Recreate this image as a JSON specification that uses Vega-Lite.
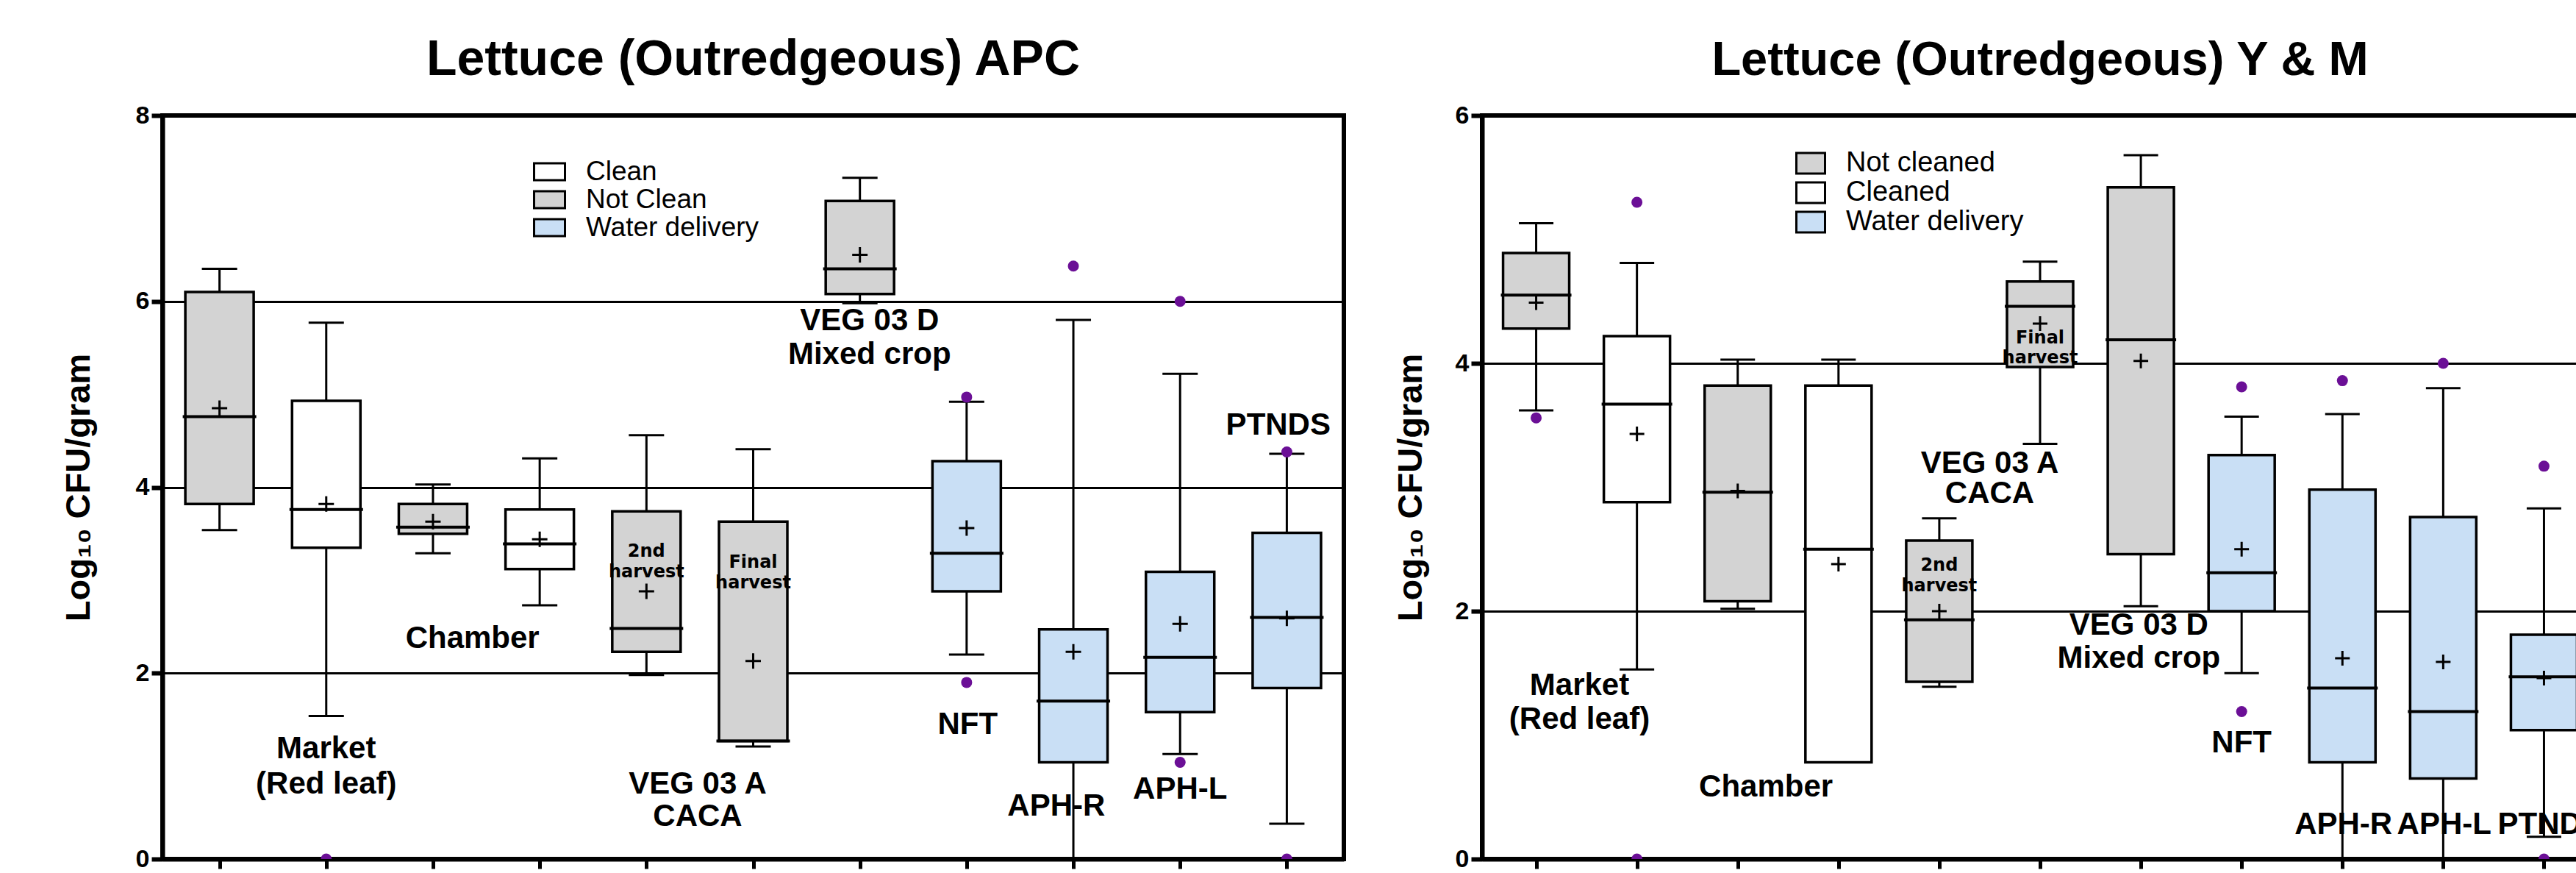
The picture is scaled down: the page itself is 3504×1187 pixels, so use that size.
{
  "$schema": "https://vega.github.io/schema/vega-lite/v6.json",
  "background": "white",
  "padding": {"left": 80, "top": 45, "right": 0, "bottom": 0},
  "bounds": "flush",
  "spacing": 188,
  "config": {
    "font": "Liberation Sans",
    "view": {"stroke": "#000", "strokeWidth": 6},
    "title": {"font": "Liberation Sans", "fontWeight": "bold", "color": "#000", "anchor": "middle", "frame": "group", "offset": 24},
    "axis": {"domainColor": "#000", "tickColor": "#000", "labelColor": "#000", "titleColor": "#000"},
    "axisX": {"labels": false, "title": null, "grid": false, "domainWidth": 6, "tickWidth": 5, "tickSize": 13},
    "axisY": {"grid": true, "gridColor": "#000", "gridWidth": 3, "gridOpacity": 1, "domainWidth": 6, "tickWidth": 6, "tickSize": 15,
      "labelFont": "Liberation Sans", "labelFontWeight": "bold", "labelFontSize": 34, "labelPadding": 3,
      "titleFont": "Liberation Sans", "titleFontSize": 47, "titleFontWeight": "bold"},
    "legend": {"labelLimit": 600}
  },
  "datasets": {
    "boxL": [
      {"cat": 1, "g": "Not Clean", "lo": 3.54, "q1": 3.82, "med": 4.76, "q3": 6.10, "hi": 6.35, "mean": 4.85},
      {"cat": 2, "g": "Clean", "lo": 1.54, "q1": 3.35, "med": 3.76, "q3": 4.93, "hi": 5.77, "mean": 3.82},
      {"cat": 3, "g": "Not Clean", "lo": 3.29, "q1": 3.50, "med": 3.57, "q3": 3.82, "hi": 4.03, "mean": 3.63},
      {"cat": 4, "g": "Clean", "lo": 2.73, "q1": 3.12, "med": 3.39, "q3": 3.76, "hi": 4.31, "mean": 3.44},
      {"cat": 5, "g": "Not Clean", "lo": 1.98, "q1": 2.23, "med": 2.48, "q3": 3.74, "hi": 4.56, "mean": 2.88},
      {"cat": 6, "g": "Not Clean", "lo": 1.21, "q1": 1.27, "med": 1.27, "q3": 3.63, "hi": 4.41, "mean": 2.13},
      {"cat": 7, "g": "Not Clean", "lo": 5.98, "q1": 6.08, "med": 6.35, "q3": 7.08, "hi": 7.33, "mean": 6.50},
      {"cat": 8, "g": "Water delivery", "lo": 2.20, "q1": 2.88, "med": 3.29, "q3": 4.28, "hi": 4.92, "mean": 3.56},
      {"cat": 9, "g": "Water delivery", "lo": 0.0, "q1": 1.04, "med": 1.70, "q3": 2.47, "hi": 5.80, "mean": 2.23},
      {"cat": 10, "g": "Water delivery", "lo": 1.13, "q1": 1.58, "med": 2.17, "q3": 3.09, "hi": 5.22, "mean": 2.53},
      {"cat": 11, "g": "Water delivery", "lo": 0.38, "q1": 1.84, "med": 2.60, "q3": 3.51, "hi": 4.36, "mean": 2.59}
    ],
    "outL": [
      {"cat": 2, "v": 0.0}, {"cat": 8, "v": 4.97}, {"cat": 8, "v": 1.90}, {"cat": 9, "v": 6.38},
      {"cat": 10, "v": 6.00}, {"cat": 10, "v": 1.04}, {"cat": 11, "v": 4.38}, {"cat": 11, "v": 0.0}
    ],
    "labL": [
      {"cat": 2, "y": 1.19, "t": "Market"},
      {"cat": 2, "y": 0.81, "t": "(Red leaf)"},
      {"cat": 3.37, "y": 2.37, "t": "Chamber"},
      {"cat": 5.48, "y": 0.81, "t": "VEG 03 A"},
      {"cat": 5.48, "y": 0.46, "t": "CACA"},
      {"cat": 7.09, "y": 5.79, "t": "VEG 03 D"},
      {"cat": 7.09, "y": 5.43, "t": "Mixed crop"},
      {"cat": 8.01, "y": 1.45, "t": "NFT"},
      {"cat": 8.84, "y": 0.57, "t": "APH-R"},
      {"cat": 10.0, "y": 0.75, "t": "APH-L"},
      {"cat": 10.92, "y": 4.67, "t": "PTNDS"}
    ],
    "labLs": [
      {"cat": 5, "y": 3.31, "t": "2nd"},
      {"cat": 5, "y": 3.09, "t": "harvest"},
      {"cat": 6, "y": 3.19, "t": "Final"},
      {"cat": 6, "y": 2.97, "t": "harvest"}
    ],
    "boxR": [
      {"cat": 1, "g": "Not cleaned", "lo": 3.62, "q1": 4.28, "med": 4.55, "q3": 4.89, "hi": 5.13, "mean": 4.49},
      {"cat": 2, "g": "Cleaned", "lo": 1.53, "q1": 2.88, "med": 3.67, "q3": 4.22, "hi": 4.81, "mean": 3.43},
      {"cat": 3, "g": "Not cleaned", "lo": 2.02, "q1": 2.08, "med": 2.96, "q3": 3.82, "hi": 4.03, "mean": 2.97},
      {"cat": 4, "g": "Cleaned", "lo": 0.78, "q1": 0.78, "med": 2.50, "q3": 3.82, "hi": 4.03, "mean": 2.38},
      {"cat": 5, "g": "Not cleaned", "lo": 1.39, "q1": 1.43, "med": 1.93, "q3": 2.57, "hi": 2.75, "mean": 2.00},
      {"cat": 6, "g": "Not cleaned", "lo": 3.35, "q1": 3.97, "med": 4.46, "q3": 4.66, "hi": 4.82, "mean": 4.32},
      {"cat": 7, "g": "Not cleaned", "lo": 2.04, "q1": 2.46, "med": 4.19, "q3": 5.42, "hi": 5.68, "mean": 4.02},
      {"cat": 8, "g": "Water delivery", "lo": 1.50, "q1": 2.00, "med": 2.31, "q3": 3.26, "hi": 3.57, "mean": 2.50},
      {"cat": 9, "g": "Water delivery", "lo": 0.0, "q1": 0.78, "med": 1.38, "q3": 2.98, "hi": 3.59, "mean": 1.62},
      {"cat": 10, "g": "Water delivery", "lo": 0.0, "q1": 0.65, "med": 1.19, "q3": 2.76, "hi": 3.80, "mean": 1.59},
      {"cat": 11, "g": "Water delivery", "lo": 0.18, "q1": 1.04, "med": 1.47, "q3": 1.81, "hi": 2.83, "mean": 1.46}
    ],
    "outR": [
      {"cat": 1, "v": 3.56}, {"cat": 2, "v": 5.30}, {"cat": 2, "v": 0.0}, {"cat": 8, "v": 3.81},
      {"cat": 8, "v": 1.19}, {"cat": 9, "v": 3.86}, {"cat": 10, "v": 4.00}, {"cat": 11, "v": 3.17}, {"cat": 11, "v": 0.0}
    ],
    "labR": [
      {"cat": 1.43, "y": 1.40, "t": "Market"},
      {"cat": 1.43, "y": 1.13, "t": "(Red leaf)"},
      {"cat": 3.28, "y": 0.58, "t": "Chamber"},
      {"cat": 5.5, "y": 3.19, "t": "VEG 03 A"},
      {"cat": 5.5, "y": 2.95, "t": "CACA"},
      {"cat": 6.98, "y": 1.89, "t": "VEG 03 D"},
      {"cat": 6.98, "y": 1.62, "t": "Mixed crop"},
      {"cat": 8.0, "y": 0.94, "t": "NFT"},
      {"cat": 9.01, "y": 0.28, "t": "APH-R"},
      {"cat": 10.01, "y": 0.28, "t": "APH-L"},
      {"cat": 11.06, "y": 0.28, "t": "PTNDS"}
    ],
    "labRs": [
      {"cat": 5, "y": 2.37, "t": "2nd"},
      {"cat": 5, "y": 2.20, "t": "harvest"},
      {"cat": 6, "y": 4.20, "t": "Final"},
      {"cat": 6, "y": 4.04, "t": "harvest"}
    ]
  },
  "hconcat": [
    {
      "width": 1607,
      "height": 1011,
      "title": {"text": "Lettuce (Outredgeous) APC", "fontSize": 68},
      "encoding": {
        "x": {"field": "cat", "type": "quantitative", "scale": {"domain": [0.5, 11.5], "nice": false, "zero": false},
          "axis": {"values": [1, 2, 3, 4, 5, 6, 7, 8, 9, 10, 11]}}
      },
      "layer": [
        {
          "data": {"name": "boxL"},
          "mark": {"type": "rule", "color": "#000", "strokeWidth": 3},
          "encoding": {
            "y": {"field": "lo", "type": "quantitative", "scale": {"domain": [0, 8], "nice": false, "zero": false},
              "axis": {"values": [0, 2, 4, 6, 8], "title": "Log₁₀ CFU/gram", "titlePadding": 53}},
            "y2": {"field": "hi"}
          }
        },
        {
          "data": {"name": "boxL"},
          "mark": {"type": "tick", "orient": "horizontal", "size": 48, "thickness": 3, "color": "#000", "opacity": 1},
          "encoding": {"y": {"field": "lo", "type": "quantitative", "axis": {"values": [0, 2, 4, 6, 8], "title": "Log₁₀ CFU/gram", "titlePadding": 53}}}
        },
        {
          "data": {"name": "boxL"},
          "mark": {"type": "tick", "orient": "horizontal", "size": 48, "thickness": 3, "color": "#000", "opacity": 1},
          "encoding": {"y": {"field": "hi", "type": "quantitative", "axis": {"values": [0, 2, 4, 6, 8], "title": "Log₁₀ CFU/gram", "titlePadding": 53}}}
        },
        {
          "data": {"name": "boxL"},
          "mark": {"type": "bar", "size": 93, "stroke": "#000", "strokeWidth": 3.5, "opacity": 1},
          "encoding": {
            "y": {"field": "q1", "type": "quantitative", "axis": {"values": [0, 2, 4, 6, 8], "title": "Log₁₀ CFU/gram", "titlePadding": 53}},
            "y2": {"field": "q3"},
            "color": {"field": "g", "type": "nominal",
              "scale": {"domain": ["Clean", "Not Clean", "Water delivery"], "range": ["#ffffff", "#d3d3d3", "#c9dff5"]},
              "legend": {"orient": "none", "legendX": 508, "legendY": 58, "title": null, "symbolType": "M-1.4,-0.77H1.4V0.77H-1.4Z", "symbolSize": 900,
                "symbolStrokeColor": "#000", "symbolStrokeWidth": 3, "symbolOpacity": 1, "labelFont": "Liberation Sans", "labelFontSize": 37, "labelColor": "#000",
                "labelOffset": 31, "rowPadding": 0, "padding": 0}}
          }
        },
        {
          "data": {"name": "boxL"},
          "mark": {"type": "tick", "orient": "horizontal", "size": 100, "thickness": 4, "color": "#000", "opacity": 1},
          "encoding": {"y": {"field": "med", "type": "quantitative", "axis": {"values": [0, 2, 4, 6, 8], "title": "Log₁₀ CFU/gram", "titlePadding": 53}}}
        },
        {
          "data": {"name": "boxL"},
          "mark": {"type": "point", "shape": "M-1,0H1M0,-1V1", "size": 440, "filled": false, "stroke": "#000", "strokeWidth": 3, "opacity": 1},
          "encoding": {"y": {"field": "mean", "type": "quantitative", "axis": {"values": [0, 2, 4, 6, 8], "title": "Log₁₀ CFU/gram", "titlePadding": 53}}}
        },
        {
          "data": {"name": "outL"},
          "mark": {"type": "circle", "size": 225, "color": "#6b0f96", "opacity": 1, "clip": true},
          "encoding": {"y": {"field": "v", "type": "quantitative", "axis": {"values": [0, 2, 4, 6, 8], "title": "Log₁₀ CFU/gram", "titlePadding": 53}}}
        },
        {
          "data": {"name": "labL"},
          "mark": {"type": "text", "font": "Liberation Sans", "fontWeight": "bold", "fontSize": 42, "color": "#000", "align": "center", "baseline": "middle"},
          "encoding": {"y": {"field": "y", "type": "quantitative", "axis": {"values": [0, 2, 4, 6, 8], "title": "Log₁₀ CFU/gram", "titlePadding": 53}}, "text": {"field": "t"}}
        },
        {
          "data": {"name": "labLs"},
          "mark": {"type": "text", "font": "DejaVu Sans", "fontWeight": "bold", "fontSize": 24, "color": "#000", "align": "center", "baseline": "middle"},
          "encoding": {"y": {"field": "y", "type": "quantitative", "axis": {"values": [0, 2, 4, 6, 8], "title": "Log₁₀ CFU/gram", "titlePadding": 53}}, "text": {"field": "t"}}
        }
      ]
    },
    {
      "width": 1518,
      "height": 1011,
      "title": {"text": "Lettuce (Outredgeous) Y & M", "fontSize": 65},
      "encoding": {
        "x": {"field": "cat", "type": "quantitative", "scale": {"domain": [0.5, 11.5], "nice": false, "zero": false},
          "axis": {"values": [1, 2, 3, 4, 5, 6, 7, 8, 9, 10, 11]}}
      },
      "layer": [
        {
          "data": {"name": "boxR"},
          "mark": {"type": "rule", "color": "#000", "strokeWidth": 3},
          "encoding": {
            "y": {"field": "lo", "type": "quantitative", "scale": {"domain": [0, 6], "nice": false, "zero": false},
              "axis": {"values": [0, 2, 4, 6], "title": "Log₁₀ CFU/gram", "titlePadding": 36}},
            "y2": {"field": "hi"}
          }
        },
        {
          "data": {"name": "boxR"},
          "mark": {"type": "tick", "orient": "horizontal", "size": 47, "thickness": 3, "color": "#000", "opacity": 1},
          "encoding": {"y": {"field": "lo", "type": "quantitative", "axis": {"values": [0, 2, 4, 6], "title": "Log₁₀ CFU/gram", "titlePadding": 36}}}
        },
        {
          "data": {"name": "boxR"},
          "mark": {"type": "tick", "orient": "horizontal", "size": 47, "thickness": 3, "color": "#000", "opacity": 1},
          "encoding": {"y": {"field": "hi", "type": "quantitative", "axis": {"values": [0, 2, 4, 6], "title": "Log₁₀ CFU/gram", "titlePadding": 36}}}
        },
        {
          "data": {"name": "boxR"},
          "mark": {"type": "bar", "size": 90, "stroke": "#000", "strokeWidth": 3.5, "opacity": 1},
          "encoding": {
            "y": {"field": "q1", "type": "quantitative", "axis": {"values": [0, 2, 4, 6], "title": "Log₁₀ CFU/gram", "titlePadding": 36}},
            "y2": {"field": "q3"},
            "color": {"field": "g", "type": "nominal",
              "scale": {"domain": ["Not cleaned", "Cleaned", "Water delivery"], "range": ["#d3d3d3", "#ffffff", "#c9dff5"]},
              "legend": {"orient": "none", "legendX": 428, "legendY": 46, "title": null, "symbolType": "M-1.3,-0.93H1.3V0.93H-1.3Z", "symbolSize": 900,
                "symbolStrokeColor": "#000", "symbolStrokeWidth": 3, "symbolOpacity": 1, "labelFont": "Liberation Sans", "labelFontSize": 38, "labelColor": "#000",
                "labelOffset": 29, "rowPadding": 0, "padding": 0}}
          }
        },
        {
          "data": {"name": "boxR"},
          "mark": {"type": "tick", "orient": "horizontal", "size": 96, "thickness": 4, "color": "#000", "opacity": 1},
          "encoding": {"y": {"field": "med", "type": "quantitative", "axis": {"values": [0, 2, 4, 6], "title": "Log₁₀ CFU/gram", "titlePadding": 36}}}
        },
        {
          "data": {"name": "boxR"},
          "mark": {"type": "point", "shape": "M-1,0H1M0,-1V1", "size": 400, "filled": false, "stroke": "#000", "strokeWidth": 3, "opacity": 1},
          "encoding": {"y": {"field": "mean", "type": "quantitative", "axis": {"values": [0, 2, 4, 6], "title": "Log₁₀ CFU/gram", "titlePadding": 36}}}
        },
        {
          "data": {"name": "outR"},
          "mark": {"type": "circle", "size": 225, "color": "#6b0f96", "opacity": 1, "clip": true},
          "encoding": {"y": {"field": "v", "type": "quantitative", "axis": {"values": [0, 2, 4, 6], "title": "Log₁₀ CFU/gram", "titlePadding": 36}}}
        },
        {
          "data": {"name": "labR"},
          "mark": {"type": "text", "font": "Liberation Sans", "fontWeight": "bold", "fontSize": 42, "color": "#000", "align": "center", "baseline": "middle"},
          "encoding": {"y": {"field": "y", "type": "quantitative", "axis": {"values": [0, 2, 4, 6], "title": "Log₁₀ CFU/gram", "titlePadding": 36}}, "text": {"field": "t"}}
        },
        {
          "data": {"name": "labRs"},
          "mark": {"type": "text", "font": "DejaVu Sans", "fontWeight": "bold", "fontSize": 24, "color": "#000", "align": "center", "baseline": "middle"},
          "encoding": {"y": {"field": "y", "type": "quantitative", "axis": {"values": [0, 2, 4, 6], "title": "Log₁₀ CFU/gram", "titlePadding": 36}}, "text": {"field": "t"}}
        }
      ]
    }
  ],
  "resolve": {"scale": {"color": "independent", "x": "independent", "y": "independent"}}
}
